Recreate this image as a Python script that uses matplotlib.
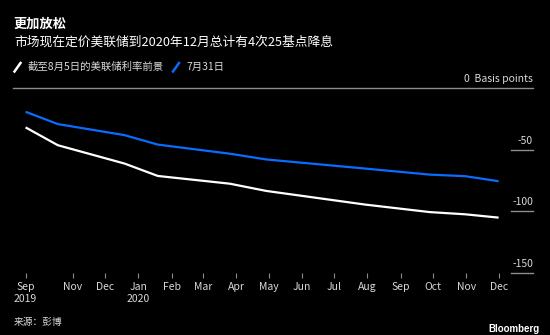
import matplotlib
matplotlib.use('Agg')
import matplotlib.pyplot as plt
import matplotlib.dates as mdates
import matplotlib.transforms as mtransforms
from matplotlib.lines import Line2D
import pandas as pd

plt.rcParams['font.family'] = ['Noto Sans CJK SC', 'DejaVu Sans']

# data (basis points)
dates = pd.to_datetime(['2019-09-18', '2019-10-18', '2019-12-19', '2020-01-19', '2020-03-26',
                        '2020-04-29', '2020-07-30', '2020-09-28', '2020-10-31', '2020-12-01'])
aug5 = [-31.8, -46.3, -61.2, -71.3, -77.6, -83.5, -94.6, -100.7, -102.5, -105.2]
jul31 = [-19.1, -29.1, -38.1, -45.8, -53.2, -57.9, -65.3, -70.2, -71.5, -75.6]

tick_dates = pd.to_datetime(['2019-09-18', '2019-11-01', '2019-12-01', '2020-01-01', '2020-02-01',
                             '2020-03-01', '2020-04-01', '2020-05-01', '2020-06-01', '2020-07-01',
                             '2020-08-01', '2020-09-01', '2020-10-01', '2020-11-01', '2020-12-01'])
tick_labels = ['Sep\n2019', 'Nov', 'Dec', 'Jan\n2020', 'Feb', 'Mar', 'Apr', 'May', 'Jun', 'Jul',
               'Aug', 'Sep', 'Oct', 'Nov', 'Dec']
y_ticks = [0, -50, -100, -150]
y_labels = ['0  Basis points', '-50', '-100', '-150']

W, H = 550, 335
bg = '#000000'
blue = '#0a6cff'
grid_col = '#8c8c8c'
txt_col = '#d9d9d9'

fig = plt.figure(figsize=(W / 100, H / 100), dpi=100, facecolor=bg)
ax = fig.add_axes([13 / W, 1 - 272.7 / H, 520 / W, (272.7 - 88.3) / H], facecolor=bg)

ax.plot(dates, jul31, color=blue, linewidth=1.6, solid_capstyle='butt')
ax.plot(dates, aug5, color='white', linewidth=1.6, solid_capstyle='butt')

start = mdates.date2num(pd.Timestamp('2019-09-19'))
ax.set_xlim(start - 12.7, start + 471.0)
ax.set_ylim(-150, 0)

for s in ax.spines.values():
    s.set_visible(False)

ax.set_xticks(tick_dates)
ax.set_xticklabels(tick_labels, fontsize=7.5, color=txt_col, linespacing=1.3)
ax.tick_params(axis='x', direction='out', length=3.5, width=0.8, color=grid_col, pad=3)
ax.set_yticks([])

trans = mtransforms.blended_transform_factory(ax.transAxes, ax.transData)
for v, lab in zip(y_ticks, y_labels):
    xmin = 0 if v == 0 else 0.957
    ax.axhline(v, xmin=xmin, xmax=1, color=grid_col, linewidth=1.0, clip_on=False, zorder=1)
    ax.annotate(lab, xy=(1.0, v), xycoords=trans, xytext=(0, 3), textcoords='offset points',
                ha='right', va='bottom', fontsize=7.5, color=txt_col)

# titles
fig.text(14 / W, 1 - 24 / H, '更加放松', fontsize=9.5, fontweight='bold', color='white', va='center')
fig.text(14 / W, 1 - 42 / H, '市场现在定价美联储到2020年12月总计有4次25基点降息', fontsize=9.2,
         color='white', va='center')

# legend
fig.add_artist(Line2D([14.5 / W, 20.5 / W], [1 - 71.5 / H, 1 - 63 / H], color='white', linewidth=1.8))
fig.text(28 / W, 1 - 66.5 / H, '截至8月5日的美联储利率前景', fontsize=7.5, color=txt_col, va='center')
fig.add_artist(Line2D([173 / W, 179 / W], [1 - 71.5 / H, 1 - 63 / H], color=blue, linewidth=1.8))
fig.text(186 / W, 1 - 66.5 / H, '7月31日', fontsize=7.5, color=txt_col, va='center')

# footer
fig.text(14 / W, 1 - 322 / H, '来源：彭博', fontsize=7, color=txt_col, va='center')
fig.text(540 / W, 1 - 329 / H, 'Bloomberg', fontsize=7, fontweight='bold', color='white',
         family='Liberation Sans', ha='right', va='center')

fig.savefig('out.png', dpi=100, facecolor=bg)
